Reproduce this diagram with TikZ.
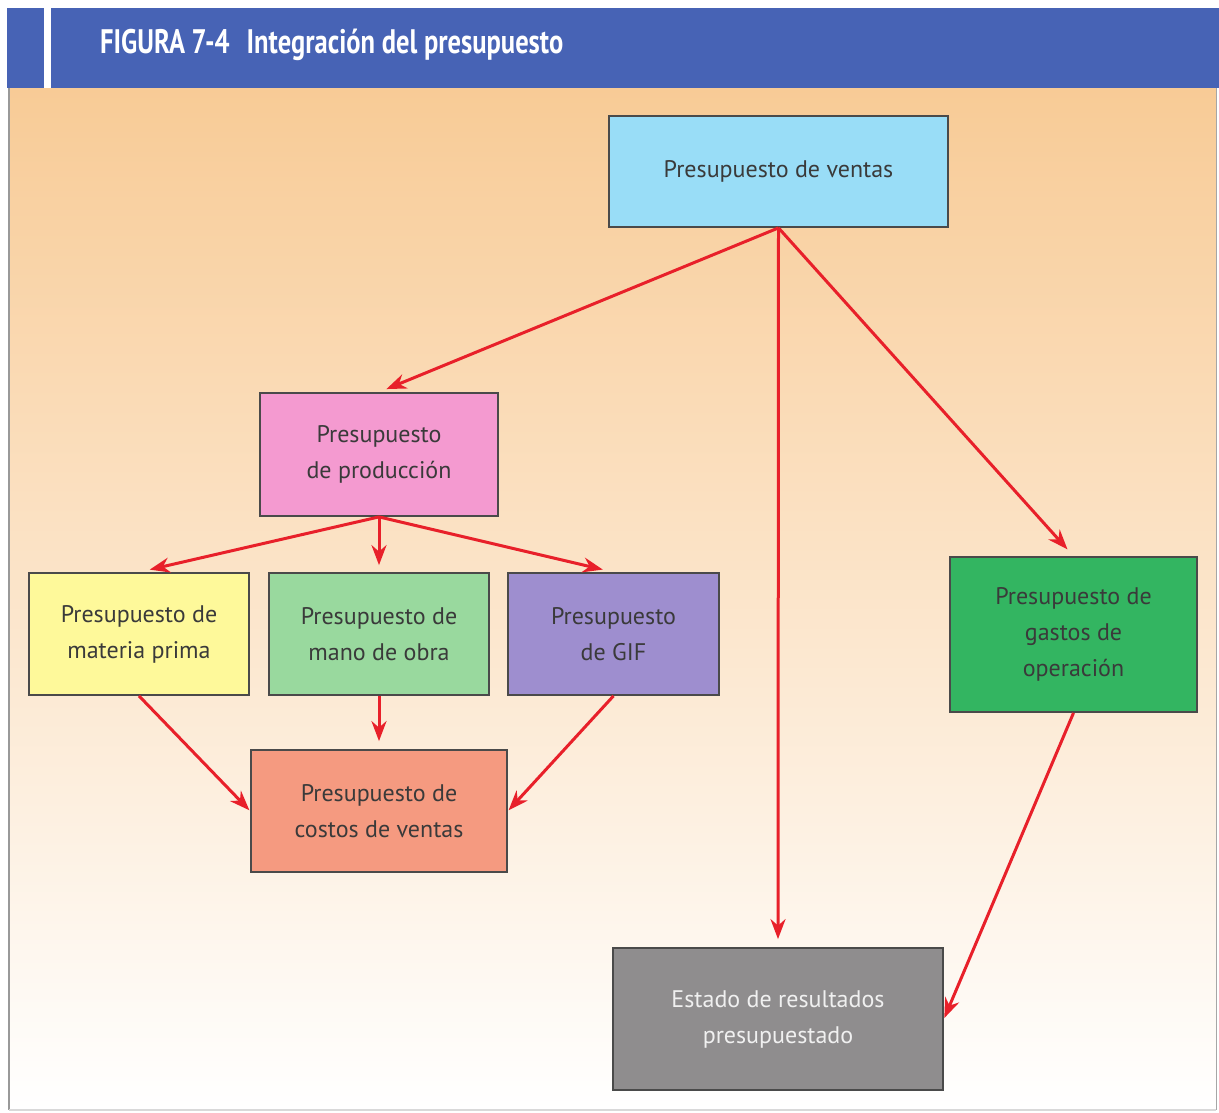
\documentclass[tikz,border=0pt]{standalone}
\usepackage{fontspec}
\setmainfont{PT Sans}
\newfontfamily\titlefont[FakeStretch=0.78]{PT Sans Bold}
\usetikzlibrary{arrows.meta}
\definecolor{barblue}{HTML}{4763B5}
\definecolor{bgtop}{HTML}{F8CB96}
\definecolor{bgmid}{HTML}{FCE8D2}
\definecolor{linered}{HTML}{E8202A}
\definecolor{boxline}{HTML}{4A4A4A}
\definecolor{txt}{HTML}{3A3A3A}
\definecolor{cventas}{HTML}{99DDF7}
\definecolor{cprod}{HTML}{F49AD0}
\definecolor{cmat}{HTML}{FEF99A}
\definecolor{cmano}{HTML}{99D99E}
\definecolor{cgif}{HTML}{9E8ECF}
\definecolor{cgastos}{HTML}{33B561}
\definecolor{ccostos}{HTML}{F59A80}
\definecolor{cestado}{HTML}{8F8D8E}
\begin{document}
\begin{tikzpicture}[x=1pt,y=-1pt,
  budget/.style={draw=boxline, line width=1.8pt, inner sep=0pt, align=center,
    text=txt, font=\fontsize{24}{36}\selectfont},
  flow/.style={draw=linered, line width=3pt, -{Stealth[length=20pt,width=15pt]}}]
  \useasboundingbox (0,0) rectangle (1219,1113);
  % page background
  \fill[white] (0,0) rectangle (1219,1113);
  % shaded panel
  \shade[top color=bgtop, middle color=bgmid, bottom color=white] (8,88) rectangle (1216,1110);
  \draw[gray!80, line width=2.5pt] (9,88) -- (9,1110);
  \draw[gray!30, line width=1.5pt] (9,1110) -- (1216,1110);
  \draw[gray!70, line width=1pt] (1216,88) -- (1216,1110);
  % title bar
  \fill[barblue] (7,8) rectangle (1219,88);
  \fill[white] (44,8) rectangle (51,88);
  \node[anchor=west, text=white, inner sep=0pt, font=\titlefont\fontsize{34}{40}\selectfont]
    (title) at (100,45) {FIGURA 7-4\hspace{0.5em}Integración del presupuesto};

  % budget boxes
  \node[budget, fill=cventas, minimum width=339pt, minimum height=111pt] (ventas) at (778.5,171.5) {Presupuesto de ventas};
  \node[budget, fill=cprod, minimum width=238pt, minimum height=123pt] (prod) at (379,454.5) {Presupuesto\\de producción};
  \node[budget, fill=cmat, minimum width=220pt, minimum height=122pt] (mat) at (139,634) {Presupuesto de\\materia prima};
  \node[budget, fill=cmano, minimum width=220pt, minimum height=122pt] (mano) at (379,634) {Presupuesto de\\mano de obra};
  \node[budget, fill=cgif, minimum width=211pt, minimum height=122pt] (gif) at (613.5,634) {Presupuesto\\de GIF};
  \node[budget, fill=cgastos, minimum width=247pt, minimum height=155pt] (gastos) at (1073.5,634.5) {Presupuesto de\\gastos de\\operación};
  \node[budget, fill=ccostos, minimum width=256pt, minimum height=122pt] (costos) at (379,811) {Presupuesto de\\costos de ventas};
  \node[budget, fill=cestado, text=white!88!gray, minimum width=330pt, minimum height=142pt] (estado) at (778,1019) {Estado de resultados\\presupuestado};

  % connectors
  \draw[flow, shorten >=8pt] (ventas.south) -- (prod.north);
  \draw[flow, shorten >=8pt] (ventas.south) -- (estado.north);
  \draw[flow, shorten >=9pt] (ventas.south) -- (gastos.north);
  \draw[flow, shorten >=11pt] (prod.south) -- (mat.north);
  \draw[flow, shorten >=7pt] (prod.south) -- (mano.north);
  \draw[flow, shorten >=11pt] (prod.south) -- (gif.north);
  \draw[flow, shorten >=1pt] (mat.south) -- (costos.west);
  \draw[flow, shorten >=8pt] (mano.south) -- (costos.north);
  \draw[flow, shorten >=1pt] (gif.south) -- (costos.east);
  \draw[flow, shorten >=1pt] (gastos.south) -- (estado.east);
\end{tikzpicture}
\end{document}
